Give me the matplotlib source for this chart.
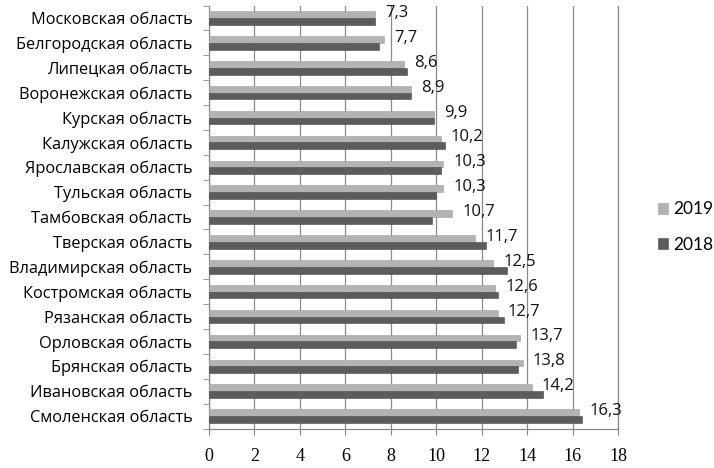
import matplotlib
matplotlib.use("Agg")
import matplotlib.pyplot as plt
import numpy as np

regions = ["Московская область", "Белгородская область", "Липецкая область",
           "Воронежская область", "Курская область", "Калужская область",
           "Ярославская область", "Тульская область", "Тамбовская область",
           "Тверская область", "Владимирская область", "Костромская область",
           "Рязанская область", "Орловская область", "Брянская область",
           "Ивановская область", "Смоленская область"]
v2019 = [7.3, 7.7, 8.6, 8.9, 9.9, 10.2, 10.3, 10.3, 10.7, 11.7, 12.5, 12.6,
         12.7, 13.7, 13.8, 14.2, 16.3]
v2018 = [7.3, 7.5, 8.7, 8.9, 9.9, 10.4, 10.2, 10.0, 9.8, 12.2, 13.1, 12.7,
         13.0, 13.5, 13.6, 14.7, 16.4]
labels2019 = ["7,3", "7,7", "8,6", "8,9", "9,9", "10,2", "10,3", "10,3", "10,7",
              "11,7", "12,5", "12,6", "12,7", "13,7", "13,8", "14,2", "16,3"]
xticks = [0, 2, 4, 6, 8, 10, 12, 14, 16, 18]

fig = plt.figure(figsize=(7.14, 4.68), dpi=100)
ax = fig.add_axes([0.2927, 0.0844, 0.8655 - 0.2927, 0.988 - 0.0844])

n = len(regions)
y = np.arange(n)
h = 0.27
c19 = "#b3b3b3"
c18 = "#5c5c5c"
ax.barh(y - h / 2, v2019, height=h, color=c19, label="2019", zorder=3,
        edgecolor="#a0a0a0", linewidth=0.4)
ax.barh(y + h / 2, v2018, height=h, color=c18, label="2018", zorder=3,
        edgecolor="#4a4a4a", linewidth=0.4)

for yi, v, t in zip(y, v2019, labels2019):
    ax.text(v + 0.45, yi - 0.2, t, va="center", ha="left", fontsize=12,
            family="Open Sans", color="#111111", zorder=4)

ax.set_xlim(0, 18)
ax.set_ylim(n - 0.5, -0.5)
ax.set_xticks(xticks)
ax.set_xticklabels([str(t) for t in xticks], family="Liberation Serif",
                   fontsize=13)
ax.set_yticks(y)
ax.set_yticklabels(regions, family="Open Sans", fontsize=11.8)
ax.set_yticks(np.arange(n + 1) - 0.5, minor=True)
ax.tick_params(axis="y", which="major", length=0, pad=12)
ax.tick_params(axis="y", which="minor", length=4, color="#888888")
ax.tick_params(axis="x", length=4, color="#888888", pad=10)
ax.xaxis.grid(True, color="#8a8a8a", linewidth=0.9, zorder=0)
ax.set_axisbelow(True)
ax.spines["top"].set_visible(False)
for s in ["left", "bottom", "right"]:
    ax.spines[s].set_color("#8a8a8a")
    ax.spines[s].set_linewidth(0.9)

handles, lbls = ax.get_legend_handles_labels()
fig.legend(handles, lbls, loc="center left", bbox_to_anchor=(0.921, 0.515),
           frameon=False, handlelength=0.6, handleheight=0.6,
           labelspacing=1.1, handletextpad=0.3, borderpad=0,
           borderaxespad=0, prop={"family": "Lato", "size": 12.5})

fig.savefig("out.png", dpi=100)
